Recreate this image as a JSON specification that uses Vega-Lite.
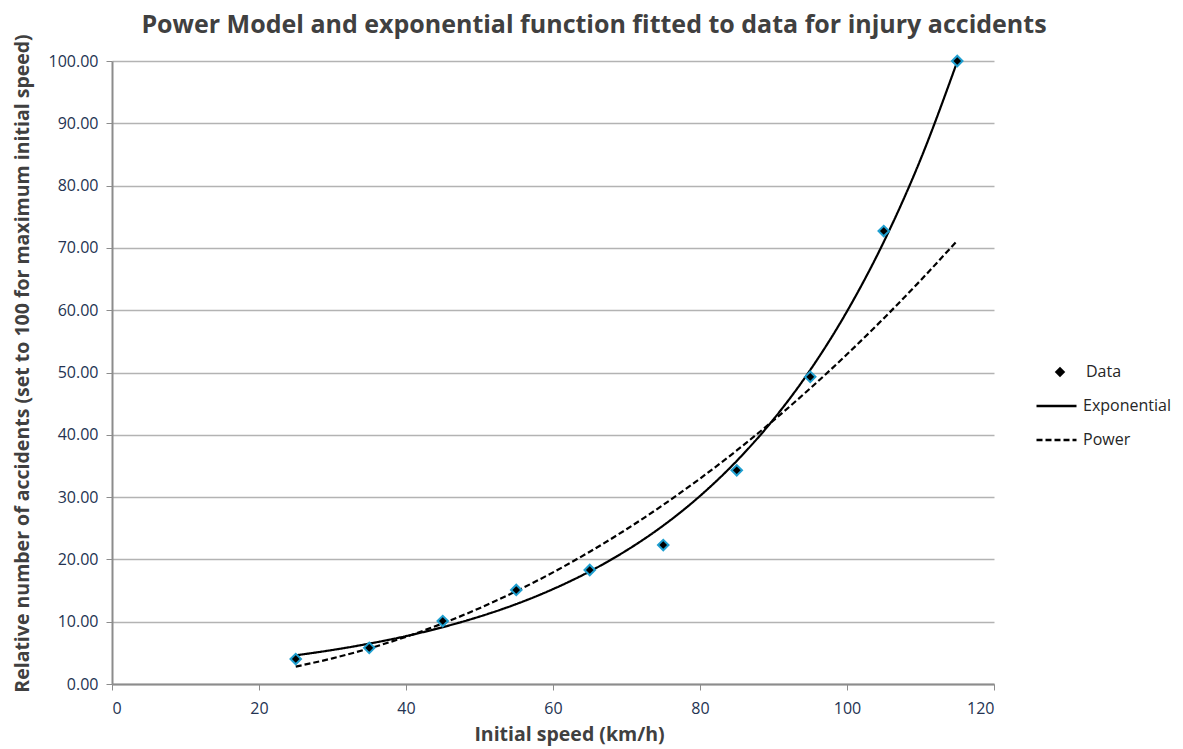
{
  "$schema": "https://vega.github.io/schema/vega-lite/v6.json",
  "width": 882,
  "height": 623,
  "autosize": "none",
  "padding": {"left": 112, "top": 61, "right": 189, "bottom": 65},
  "background": "white",
  "config": {
    "font": "Open Sans",
    "view": {"stroke": null}
  },
  "title": {
    "text": "Power Model and exponential function fitted to data for injury accidents",
    "fontSize": 25,
    "fontWeight": "bold",
    "color": "#404040",
    "offset": -4,
    "dx": 41,
    "anchor": "middle"
  },
  "datasets": {
    "points": [
      {"series": "Data", "speed": 25, "value": 4.0},
      {"series": "Data", "speed": 35, "value": 5.8},
      {"series": "Data", "speed": 45, "value": 10.1},
      {"series": "Data", "speed": 55, "value": 15.1},
      {"series": "Data", "speed": 65, "value": 18.3},
      {"series": "Data", "speed": 75, "value": 22.3},
      {"series": "Data", "speed": 85, "value": 34.3},
      {"series": "Data", "speed": 95, "value": 49.3},
      {"series": "Data", "speed": 105, "value": 72.7},
      {"series": "Data", "speed": 115, "value": 100.0}
    ],
    "curves": [
      {"series": "Exponential", "speed": 25, "value": 4.60},
      {"series": "Exponential", "speed": 30, "value": 5.46},
      {"series": "Exponential", "speed": 35, "value": 6.48},
      {"series": "Exponential", "speed": 40, "value": 7.68},
      {"series": "Exponential", "speed": 45, "value": 9.12},
      {"series": "Exponential", "speed": 50, "value": 10.82},
      {"series": "Exponential", "speed": 55, "value": 12.83},
      {"series": "Exponential", "speed": 60, "value": 15.23},
      {"series": "Exponential", "speed": 65, "value": 18.07},
      {"series": "Exponential", "speed": 70, "value": 21.44},
      {"series": "Exponential", "speed": 75, "value": 25.43},
      {"series": "Exponential", "speed": 80, "value": 30.18},
      {"series": "Exponential", "speed": 85, "value": 35.81},
      {"series": "Exponential", "speed": 90, "value": 42.48},
      {"series": "Exponential", "speed": 95, "value": 50.40},
      {"series": "Exponential", "speed": 100, "value": 59.81},
      {"series": "Exponential", "speed": 105, "value": 70.96},
      {"series": "Exponential", "speed": 110, "value": 84.19},
      {"series": "Exponential", "speed": 115, "value": 99.9},
      {"series": "Power", "speed": 25, "value": 2.80},
      {"series": "Power", "speed": 30, "value": 4.12},
      {"series": "Power", "speed": 35, "value": 5.71},
      {"series": "Power", "speed": 40, "value": 7.58},
      {"series": "Power", "speed": 45, "value": 9.73},
      {"series": "Power", "speed": 50, "value": 12.17},
      {"series": "Power", "speed": 55, "value": 14.90},
      {"series": "Power", "speed": 60, "value": 17.92},
      {"series": "Power", "speed": 65, "value": 21.23},
      {"series": "Power", "speed": 70, "value": 24.84},
      {"series": "Power", "speed": 75, "value": 28.75},
      {"series": "Power", "speed": 80, "value": 32.97},
      {"series": "Power", "speed": 85, "value": 37.49},
      {"series": "Power", "speed": 90, "value": 42.31},
      {"series": "Power", "speed": 95, "value": 47.46},
      {"series": "Power", "speed": 100, "value": 52.92},
      {"series": "Power", "speed": 105, "value": 58.69},
      {"series": "Power", "speed": 110, "value": 64.77},
      {"series": "Power", "speed": 115, "value": 71.17}
    ]
  },
  "layer": [
    {
      "data": {"name": "curves"},
      "mark": {"type": "line", "interpolate": "monotone", "color": "black", "strokeWidth": 2.2},
      "encoding": {
        "x": {
          "field": "speed", "type": "quantitative",
          "scale": {"domain": [0, 120], "nice": false, "zero": false},
          "axis": {
            "values": [0, 20, 40, 60, 80, 100, 120],
            "title": "Initial speed (km/h)",
            "titleFontSize": 19.5, "titleFontWeight": "bold", "titleColor": "#404040",
            "titlePadding": 9,
            "titleX": 457,
            "labelFontSize": 16, "labelColor": "#243352", "labelPadding": 10,
            "domainColor": "#8c8c8c", "domainWidth": 2,
            "tickColor": "#8c8c8c", "tickSize": 6, "tickWidth": 1,
            "grid": false
          }
        },
        "y": {
          "field": "value", "type": "quantitative",
          "scale": {"domain": [0, 100], "nice": false},
          "axis": {
            "values": [0, 10, 20, 30, 40, 50, 60, 70, 80, 90, 100],
            "format": ".2f",
            "title": "Relative number of accidents (set to 100 for maximum initial speed)",
            "titleFontSize": 19.5, "titleFontWeight": "bold", "titleColor": "#404040",
            "titlePadding": 16,
            "titleY": 302,
            "labelFontSize": 16, "labelColor": "#243352", "labelPadding": 8,
            "domainColor": "#8c8c8c", "domainWidth": 2,
            "tickColor": "#8c8c8c", "tickSize": 6,
            "grid": true, "gridColor": "#b3b3b3", "gridWidth": 1.5
          }
        },
        "strokeDash": {
          "field": "series", "type": "nominal",
          "scale": {"domain": ["Exponential", "Power"], "range": [[1, 0], [6, 3]]},
          "legend": {
            "title": null,
            "orient": "none",
            "legendX": 923,
            "legendY": 337,
            "labelFontSize": 16,
            "labelColor": "#262626",
            "symbolType": "stroke",
            "symbolSize": 1600,
            "symbolStrokeWidth": 2.5,
            "symbolStrokeColor": "black",
            "clipHeight": 16,
            "rowPadding": 18,
            "labelOffset": 5
          }
        }
      }
    },
    {
      "data": {"name": "points"},
      "mark": {"type": "point", "filled": true, "fill": "black", "stroke": "#1f9fd0", "strokeWidth": 2, "size": 110, "opacity": 1},
      "encoding": {
        "x": {"field": "speed", "type": "quantitative"},
        "y": {"field": "value", "type": "quantitative"},
        "shape": {
          "field": "series", "type": "nominal",
          "scale": {"domain": ["Data"], "range": ["diamond"]},
          "legend": {
            "title": null,
            "orient": "none",
            "legendX": 940,
            "legendY": 303,
            "labelFontSize": 16,
            "labelColor": "#262626",
            "symbolSize": 110,
            "symbolFillColor": "black",
            "symbolStrokeColor": "#1f9fd0",
            "symbolStrokeWidth": 2,
            "symbolOpacity": 1,
            "clipHeight": 16,
            "labelOffset": 18
          }
        }
      }
    }
  ]
}
